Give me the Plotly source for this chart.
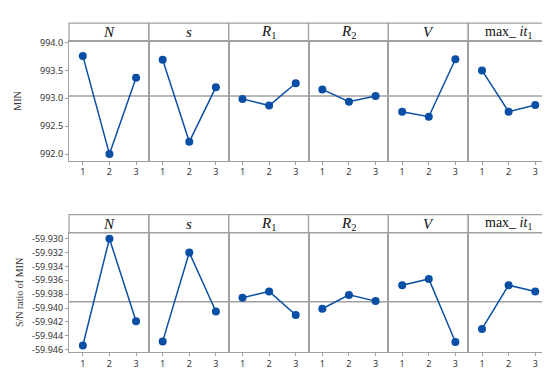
import numpy as np
import plotly.graph_objects as go
from plotly.subplots import make_subplots

# factor levels and panel headers
levels = [1, 2, 3]
factors = ["<i>N</i>", "<i>s</i>", "<i>R</i><sub>1</sub>", "<i>R</i><sub>2</sub>",
           "<i>V</i>", "max_ <i>it</i><sub>1</sub>"]

# mean of MIN per level (top row)
min_N = [993.76, 992.00, 993.37]
min_s = [993.69, 992.22, 993.20]
min_R1 = [992.99, 992.87, 993.27]
min_R2 = [993.16, 992.94, 993.04]
min_V = [992.76, 992.67, 993.70]
min_it = [993.50, 992.76, 992.88]

# S/N ratio of MIN per level (bottom row)
sn_N = [-59.9454, -59.9300, -59.9419]
sn_s = [-59.9448, -59.9320, -59.9405]
sn_R1 = [-59.9385, -59.9376, -59.9410]
sn_R2 = [-59.9401, -59.9381, -59.9390]
sn_V = [-59.9367, -59.9358, -59.9449]
sn_it = [-59.9430, -59.9367, -59.9376]

top_ticks = [992.0, 992.5, 993.0, 993.5, 994.0]
bot_ticks = [-59.946, -59.944, -59.942, -59.940, -59.938, -59.936,
             -59.934, -59.932, -59.930]

rows = [
    [min_N, min_s, min_R1, min_R2, min_V, min_it],
    [sn_N, sn_s, sn_R1, sn_R2, sn_V, sn_it],
]

blue = "#0a4fa6"
grey = "#a0a0a0"
txt = "#333333"
x_range = [0.48, 3.48]

fig = make_subplots(rows=2, cols=6, horizontal_spacing=0, vertical_spacing=0.2,
                    shared_yaxes=True)

for r, series in enumerate(rows, start=1):
    mean = float(np.mean(series[0]))
    for c, vals in enumerate(series, start=1):
        # grand mean reference line
        fig.add_trace(go.Scatter(x=x_range, y=[mean, mean], mode="lines",
                                 line=dict(color=grey, width=1.5),
                                 showlegend=False, hoverinfo="skip"),
                      row=r, col=c)
        fig.add_trace(go.Scatter(x=levels, y=vals, mode="lines+markers",
                                 line=dict(color=blue, width=1.5),
                                 marker=dict(color=blue, size=8),
                                 showlegend=False, hoverinfo="skip"),
                      row=r, col=c)

# domains in paper units
row_dom = {1: [0.582, 0.944], 2: [0.0, 0.362]}
head_h = 19 / 124
for r in (1, 2):
    fig.update_yaxes(domain=row_dom[r], row=r)

fig.update_xaxes(range=x_range, tickvals=levels, ticktext=["1", "2", "3"],
                 ticks="outside", ticklen=3, tickcolor=grey,
                 showline=True, linecolor=grey, linewidth=1.2, mirror=True,
                 showgrid=False, zeroline=False,
                 tickfont=dict(family="Noto Sans", size=9, color=txt))
fig.update_yaxes(showline=True, linecolor=grey, linewidth=1.2, mirror=True,
                 showgrid=False, zeroline=False,
                 ticks="outside", ticklen=3, tickcolor=grey,
                 tickfont=dict(family="Noto Sans", size=9, color=txt))

fig.update_yaxes(range=[991.885, 994.02], tickvals=top_ticks,
                 ticktext=[f"{v:.1f}" for v in top_ticks], row=1)
fig.update_yaxes(range=[-59.94633, -59.92917], tickvals=bot_ticks,
                 ticktext=[f"{v:.3f}" for v in bot_ticks], row=2)
for c in range(2, 7):
    for r in (1, 2):
        fig.update_yaxes(ticks="", row=r, col=c)

fig.update_yaxes(title=dict(text="MIN", standoff=16,
                            font=dict(family="Liberation Serif", size=10, color=txt)),
                 row=1, col=1)
fig.update_yaxes(title=dict(text="S/N ratio of MIN", standoff=6,
                            font=dict(family="Liberation Serif", size=10, color=txt)),
                 row=2, col=1)

# header strips with factor names
for r in (1, 2):
    for c, name in enumerate(factors, start=1):
        idx = (r - 1) * 6 + c
        xa = "x" if idx == 1 else f"x{idx}"
        yd = "y" if idx == 1 else f"y{idx}"
        fig.add_shape(type="rect", xref=f"{xa} domain", yref=f"{yd} domain",
                      x0=0, x1=1, y0=1, y1=1 + head_h,
                      line=dict(color=grey, width=1.2), fillcolor="rgba(0,0,0,0)")
        fig.add_annotation(text=name, xref=f"{xa} domain", yref=f"{yd} domain",
                           x=0.5, y=1 + head_h / 2, showarrow=False,
                           yanchor="middle",
                           font=dict(family="Liberation Serif",
                                     size=14 if c == 6 else 15, color="#111"))

fig.update_layout(width=550, height=371, plot_bgcolor="white",
                  paper_bgcolor="white",
                  margin=dict(l=58, r=10, t=9, b=20))

fig.write_html("out.html")
